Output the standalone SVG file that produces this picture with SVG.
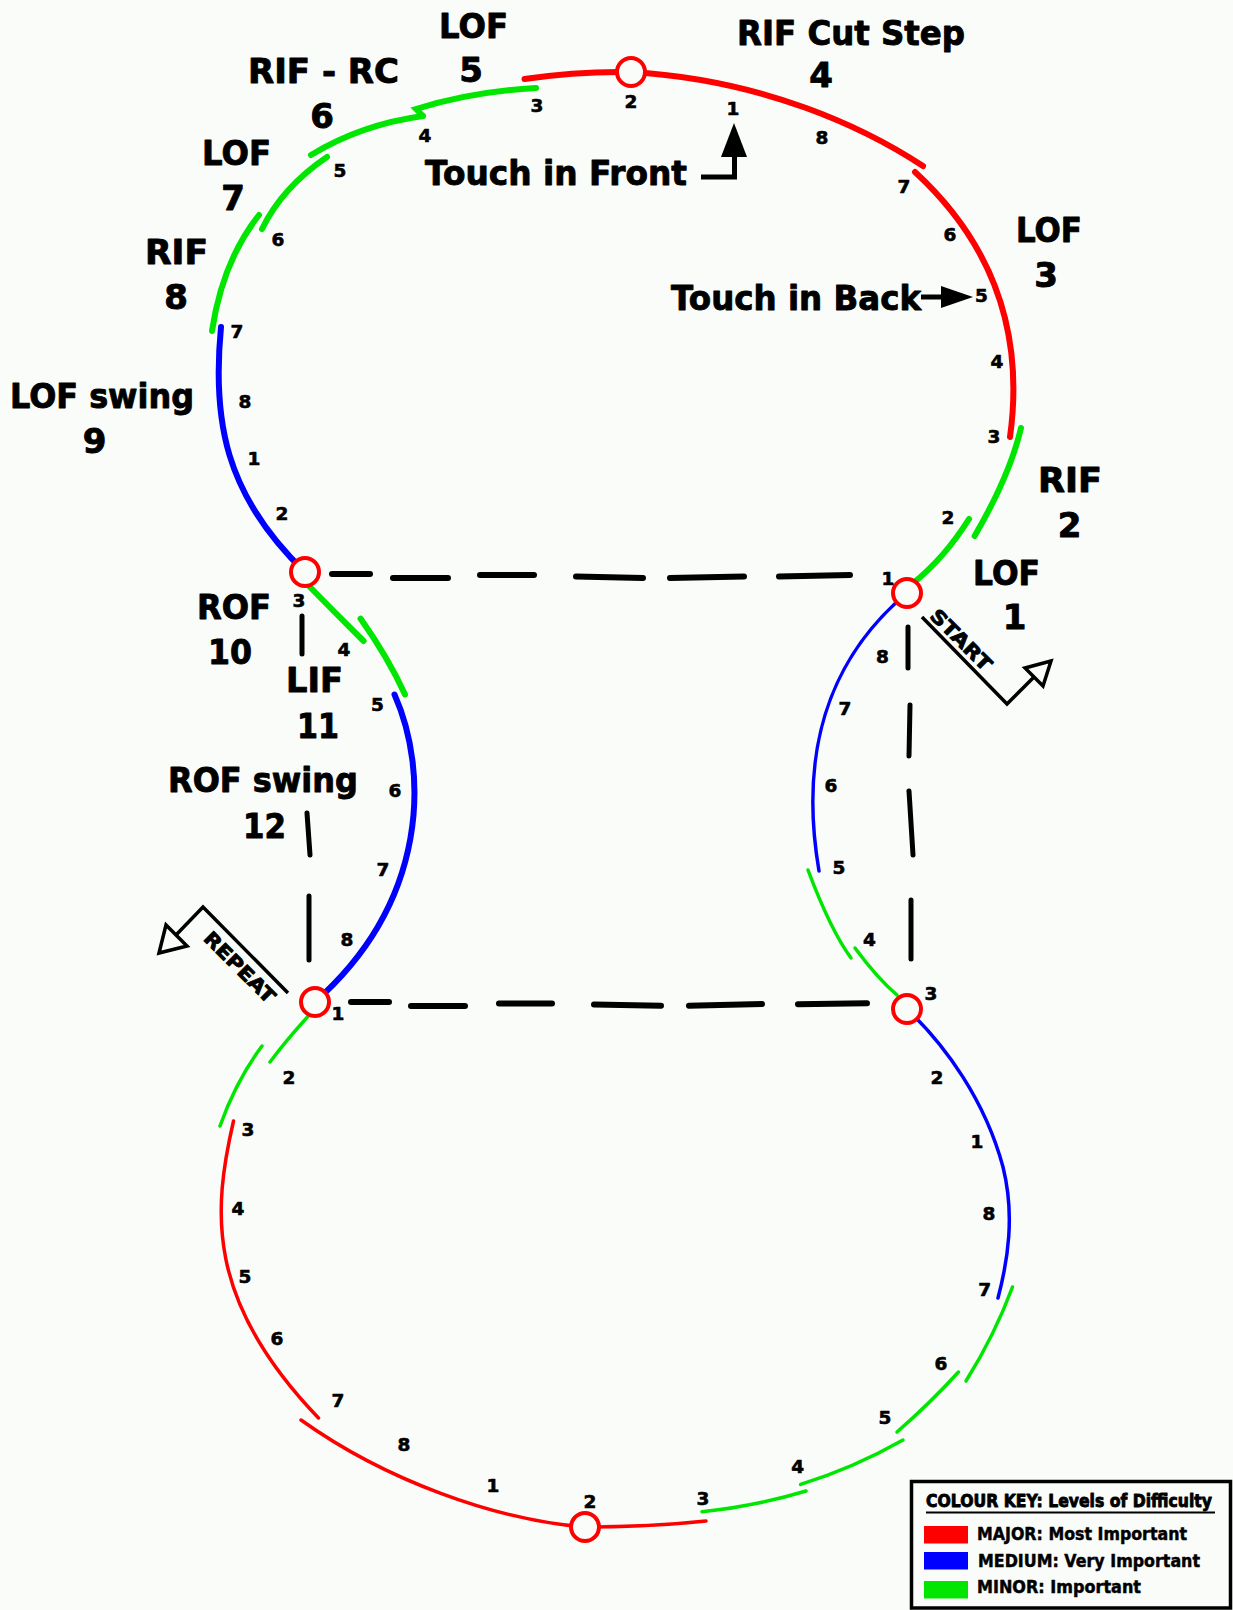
<svg xmlns="http://www.w3.org/2000/svg" width="1233" height="1610" viewBox="0 0 1233 1610">
<style>
.t{font-family:"DejaVu Sans","Liberation Sans",sans-serif;font-weight:bold;fill:#000;stroke:#000;stroke-width:0.9;stroke-linejoin:round}
.big{font-size:34px}
.bn{font-size:34px;text-anchor:middle}
.num{font-size:18.5px;text-anchor:middle;stroke-width:0.6}
.leg{font-size:17.5px;stroke-width:0.5}
.thick{fill:none;stroke-width:6;stroke-linecap:round}
.thin{fill:none;stroke-width:3.5;stroke-linecap:round}
.r{stroke:#ff0000}.b{stroke:#0000ff}.g{stroke:#00e600}
.dh{stroke:#000;stroke-width:6;stroke-linecap:round;fill:none}
.dv{stroke:#000;stroke-width:5;stroke-linecap:round;fill:none}
.node{fill:#f9fcf9;stroke:#ff0000;stroke-width:4}
.arr{fill:#f9fcf9;stroke:#000;stroke-width:3.5;stroke-linejoin:miter}
</style>
<rect width="1233" height="1610" fill="#f9fcf9"/>

<g id="connectors">
  <g id="dashes-top">
    <line class="dh" x1="332" y1="574" x2="370" y2="574"/>
    <line class="dh" x1="393" y1="578" x2="448" y2="578"/>
    <line class="dh" x1="480" y1="575" x2="534" y2="575"/>
    <line class="dh" x1="576" y1="576.5" x2="643" y2="578"/>
    <line class="dh" x1="670" y1="578" x2="744" y2="576.5"/>
    <line class="dh" x1="779" y1="576.5" x2="850" y2="575"/>
  </g>
  <g id="dashes-bottom">
    <line class="dh" x1="351" y1="1002" x2="389" y2="1002"/>
    <line class="dh" x1="411" y1="1006" x2="465" y2="1006"/>
    <line class="dh" x1="499" y1="1003.5" x2="552" y2="1003.5"/>
    <line class="dh" x1="594" y1="1004.5" x2="661" y2="1005.7"/>
    <line class="dh" x1="689" y1="1005.7" x2="762" y2="1004"/>
    <line class="dh" x1="798" y1="1004.3" x2="867" y2="1003.3"/>
  </g>
  <g id="dashes-right">
    <line class="dv" x1="908" y1="627" x2="908" y2="668"/>
    <line class="dv" x1="910" y1="705" x2="909" y2="756"/>
    <line class="dv" x1="909" y1="791" x2="913" y2="855"/>
    <line class="dv" x1="911" y1="900" x2="911" y2="959"/>
  </g>
  <g id="dashes-left">
    <line class="dv" x1="302" y1="616" x2="302" y2="654"/>
    <line class="dv" x1="307" y1="813" x2="310" y2="855"/>
    <line class="dv" x1="309" y1="896" x2="309" y2="960"/>
  </g>
</g>

<g id="track">
  <path id="seg-lof1" class="thick g" d="M912,584 Q944,558.7 969,519"/>
  <path id="seg-rif2" class="thick g" d="M974.6,536 Q1009.6,476 1021,428"/>
  <path id="seg-lof3" class="thick r" d="M1010,437 C1022,350 1005,255 915,172"/>
  <path id="seg-rif4" class="thick r" d="M923,166 C865,128 765,80 631,72 Q578,71 524.5,79"/>
  <path id="seg-lof5" class="thick g" d="M536,88 Q472,91.5 416,109 L423,116"/>
  <path id="seg-rifrc6" class="thick g" d="M423,116 Q361,124.5 311,155"/>
  <path id="seg-lof7" class="thick g" d="M327,157 Q282.5,187 262,229"/>
  <path id="seg-rif8" class="thick g" d="M259,215 Q222.5,261 212,331"/>
  <path id="seg-lof9" class="thick b" d="M221,327 C212,420 225,495 305,572"/>
  <path id="seg-rof10" class="thick g" d="M306,583 Q335,612.6 363.6,641"/>
  <path id="seg-lif11" class="thick g" d="M360.5,618.6 Q388,657.5 405,694.5"/>
  <path id="seg-rof12" class="thick b" d="M394.5,694.5 C428,770 430,900 315,1002"/>
  <path class="thin b" d="M907,593 C845,645 795,730 819,871"/>
  <path class="thin g" d="M808,870 Q830.5,930 851,958"/>
  <path class="thin g" d="M855,948 Q877.5,978.5 897,995"/>
  <path class="thin b" d="M907,1009 C945,1045 985,1100 1003,1167 C1015,1215 1008,1260 998,1298"/>
  <path class="thin g" d="M1012.5,1287 Q994.75,1335 966,1381"/>
  <path class="thin g" d="M958.5,1372 Q929.9,1403.4 897,1432"/>
  <path class="thin g" d="M903,1440 Q853.5,1468 800.6,1484.4"/>
  <path class="thin g" d="M806,1491 Q754,1506.6 702,1511.7"/>
  <path class="thin r" d="M706,1521 Q650,1527 585,1527 C495,1520 385,1480 301,1420"/>
  <path class="thin r" d="M318.5,1418 C205,1300 213,1210 233.5,1121"/>
  <path class="thin g" d="M262,1046 Q236,1081 220,1126"/>
  <path class="thin g" d="M312,1012 Q288,1038 270,1062"/>
</g>

<g id="node-top"><circle class="node" cx="631" cy="72" r="14"/></g>
<g id="node-left"><circle class="node" cx="305" cy="572" r="14"/></g>
<g id="node-right"><circle class="node" cx="907" cy="593" r="14"/></g>
<g id="node-midleft"><circle class="node" cx="315" cy="1002" r="14"/></g>
<g id="node-midright"><circle class="node" cx="907" cy="1009" r="14"/></g>
<g id="node-bottom"><circle class="node" cx="585" cy="1527" r="14"/></g>

<g id="labels" class="t">
  <text class="big" x="439" y="38" textLength="69" lengthAdjust="spacingAndGlyphs">LOF</text>
  <text class="bn" x="471" y="82">5</text>
  <text class="big" x="248" y="83" textLength="151" lengthAdjust="spacingAndGlyphs">RIF - RC</text>
  <text class="bn" x="322" y="128">6</text>
  <text class="big" x="202" y="165" textLength="69" lengthAdjust="spacingAndGlyphs">LOF</text>
  <text class="bn" x="233" y="210">7</text>
  <text class="big" x="145" y="264" textLength="63" lengthAdjust="spacingAndGlyphs">RIF</text>
  <text class="bn" x="176" y="309">8</text>
  <text class="big" x="10" y="408" textLength="184" lengthAdjust="spacingAndGlyphs">LOF swing</text>
  <text class="bn" x="94.5" y="453">9</text>
  <text class="big" x="737" y="45" textLength="228" lengthAdjust="spacingAndGlyphs">RIF Cut Step</text>
  <text class="bn" x="821" y="87">4</text>
  <text class="big" x="1016" y="242" textLength="66" lengthAdjust="spacingAndGlyphs">LOF</text>
  <text class="bn" x="1046" y="287">3</text>
  <text class="big" x="1038" y="492" textLength="64" lengthAdjust="spacingAndGlyphs">RIF</text>
  <text class="bn" x="1069.5" y="537">2</text>
  <text class="big" x="973" y="585" textLength="67" lengthAdjust="spacingAndGlyphs">LOF</text>
  <text class="bn" x="1014.5" y="629">1</text>
  <text class="big" x="197" y="619" textLength="74" lengthAdjust="spacingAndGlyphs">ROF</text>
  <text class="big" x="208" y="664" textLength="44" lengthAdjust="spacingAndGlyphs">10</text>
  <text class="big" x="286" y="692" textLength="57" lengthAdjust="spacingAndGlyphs">LIF</text>
  <text class="big" x="297" y="738" textLength="42" lengthAdjust="spacingAndGlyphs">11</text>
  <text class="big" x="168" y="792" textLength="190" lengthAdjust="spacingAndGlyphs">ROF swing</text>
  <text class="big" x="243" y="838" textLength="43" lengthAdjust="spacingAndGlyphs">12</text>
  <text class="big" x="425" y="185" textLength="262" lengthAdjust="spacingAndGlyphs">Touch in Front</text>
  <text class="big" x="671" y="310" textLength="250" lengthAdjust="spacingAndGlyphs">Touch in Back</text>
</g>

<g id="counts" class="t num">
  <text x="537" y="112">3</text>
  <text x="631" y="108">2</text>
  <text x="733" y="115">1</text>
  <text x="822" y="144">8</text>
  <text x="904" y="193">7</text>
  <text x="950" y="241">6</text>
  <text x="981.5" y="302">5</text>
  <text x="997" y="368">4</text>
  <text x="994" y="443">3</text>
  <text x="948" y="524">2</text>
  <text x="888" y="585">1</text>
  <text x="425" y="142">4</text>
  <text x="340" y="177">5</text>
  <text x="278" y="246">6</text>
  <text x="237" y="338">7</text>
  <text x="245" y="408">8</text>
  <text x="254" y="465">1</text>
  <text x="282" y="520">2</text>
  <text x="299" y="607">3</text>
  <text x="344" y="656">4</text>
  <text x="377.5" y="711">5</text>
  <text x="395" y="797">6</text>
  <text x="383" y="876">7</text>
  <text x="347" y="946">8</text>
  <text x="338" y="1020">1</text>
  <text x="882.5" y="663">8</text>
  <text x="845" y="715">7</text>
  <text x="831" y="792">6</text>
  <text x="839" y="874">5</text>
  <text x="869.5" y="946">4</text>
  <text x="931" y="1000">3</text>
  <text x="937" y="1084">2</text>
  <text x="977" y="1148">1</text>
  <text x="989" y="1220">8</text>
  <text x="984.6" y="1296">7</text>
  <text x="941" y="1370">6</text>
  <text x="885" y="1424">5</text>
  <text x="797.6" y="1473">4</text>
  <text x="703" y="1505">3</text>
  <text x="590" y="1508">2</text>
  <text x="493" y="1492">1</text>
  <text x="404" y="1451">8</text>
  <text x="338" y="1407">7</text>
  <text x="277" y="1345">6</text>
  <text x="245" y="1283">5</text>
  <text x="238" y="1215">4</text>
  <text x="248" y="1136">3</text>
  <text x="289" y="1084">2</text>
</g>

<g id="touch-front-arrow">
  <path d="M701,177 H734.5 V150" fill="none" stroke="#000" stroke-width="5"/>
  <polygon points="721,157 747,157 734,123" fill="#000"/>
</g>
<g id="touch-back-arrow">
  <line x1="921" y1="297" x2="945" y2="297" stroke="#000" stroke-width="5"/>
  <polygon points="941,286 941,308 973,297" fill="#000"/>
</g>

<g id="start-arrow">
  <polyline class="arr" fill="none" points="922,617 1007,704 1034,677"/>
  <polygon class="arr" points="1051,661 1025,668 1043,686"/>
  <text class="t" font-size="19" stroke-width="0.6" text-anchor="middle" transform="translate(961,640) rotate(45)" y="6.5" textLength="78" lengthAdjust="spacingAndGlyphs">START</text>
</g>
<g id="repeat-arrow">
  <polyline class="arr" fill="none" points="288,993 203,907 176,935"/>
  <polygon class="arr" points="159,953 166,925 187,946"/>
  <text class="t" font-size="19" stroke-width="0.6" text-anchor="middle" transform="translate(240,967) rotate(45)" y="7" textLength="92" lengthAdjust="spacingAndGlyphs">REPEAT</text>
</g>

<g id="legend">
  <rect x="911.5" y="1481.5" width="319" height="126.5" fill="#f9fcf9" stroke="#000" stroke-width="3.5"/>
  <text class="t" x="926" y="1507" font-size="18" stroke-width="0.5" textLength="286" lengthAdjust="spacingAndGlyphs">COLOUR KEY: Levels of Difficulty</text>
  <line x1="926" y1="1512.5" x2="1215" y2="1512.5" stroke="#000" stroke-width="2"/>
  <rect x="924" y="1526" width="44" height="17.5" fill="#ff0000"/>
  <rect x="924" y="1552" width="44" height="17.5" fill="#0000ff"/>
  <rect x="924" y="1581" width="44" height="17.5" fill="#00e600"/>
  <text class="t leg" x="977" y="1540" textLength="210" lengthAdjust="spacingAndGlyphs">MAJOR: Most Important</text>
  <text class="t leg" x="978" y="1566.5" textLength="222" lengthAdjust="spacingAndGlyphs">MEDIUM: Very Important</text>
  <text class="t leg" x="977" y="1593" textLength="164" lengthAdjust="spacingAndGlyphs">MINOR: Important</text>
</g>
</svg>
